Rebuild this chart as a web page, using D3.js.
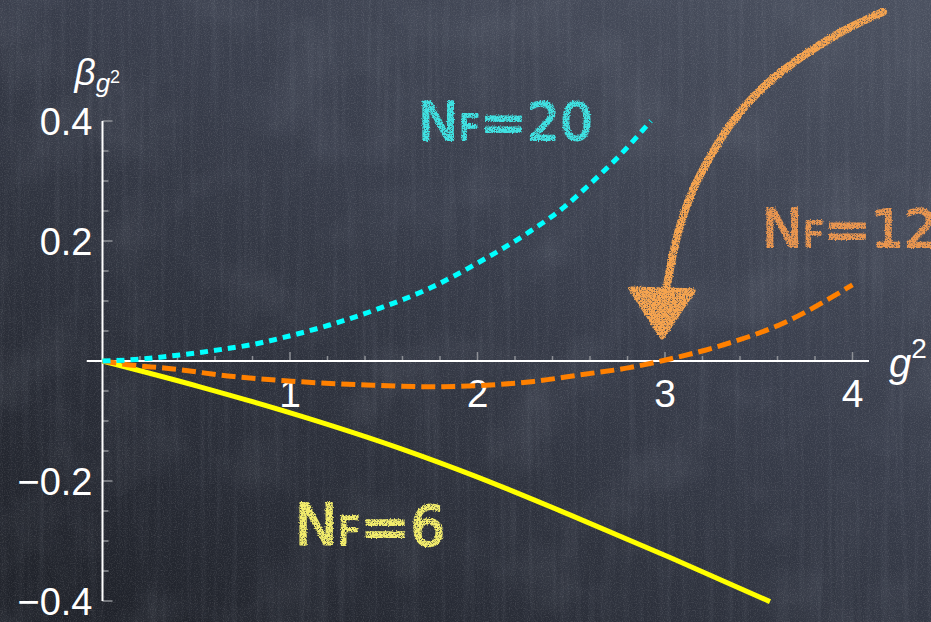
<!DOCTYPE html>
<html>
<head>
<meta charset="utf-8">
<script src="https://cdn.jsdelivr.net/npm/d3@7"></script>
<style>
  html, body { margin: 0; padding: 0; background: #2c3039; overflow: hidden; }
  svg { display: block; }
</style>
</head>
<body>
<svg id="chart" width="931" height="622"></svg>
<script>
// Two-loop beta function versus g^2 for three numbers of flavours
const gsqNf20  = [0, 0.20, 0.41, 0.65, 0.84, 0.95, 1.21, 1.48, 1.75, 2.01, 2.28, 2.46, 2.60, 2.75, 2.925];
const betaNf20 = [0, 0.003, 0.010, 0.020, 0.030, 0.038, 0.060, 0.088, 0.122, 0.165, 0.216, 0.256, 0.295, 0.340, 0.400];

const gsqNf12  = [0, 0.16, 0.34, 0.70, 1.05, 1.41, 1.77, 2.01, 2.30, 2.55, 2.81, 2.98, 3.28, 3.63, 4.00];
const betaNf12 = [0, -0.007, -0.012, -0.026, -0.0345, -0.040, -0.043, -0.041, -0.034, -0.023, -0.011, 0, 0.024, 0.063, 0.127];

const gsqNf6   = [0, 0.52, 1.05, 1.59, 1.98, 2.49, 3.03, 3.56];
const betaNf6  = [0, -0.043, -0.091, -0.146, -0.191, -0.256, -0.328, -0.401];

const xTickValues = [1, 2, 3, 4];
const xTickLabels = ["1", "2", "3", "4"];
const yTickValues = [-0.4, -0.2, 0.2, 0.4];
const yTickLabels = ["\u22120.4", "\u22120.2", "0.2", "0.4"];

const flavourLabels = ["20", "12", "6"];

// annotation arrow (data units) pointing at the zero of the N_F = 12 curve
const arrowShaft = [[4.163, 0.582], [3.95, 0.55], [3.72, 0.505], [3.52, 0.455], [3.363, 0.40],
                    [3.24, 0.34], [3.149, 0.285], [3.08, 0.225], [3.037, 0.17], [3.005, 0.115]];
const arrowHead  = [[2.820, 0.120], [3.150, 0.117], [2.984, 0.040]];

const W = 931, H = 622;
const svg = d3.select("#chart");

const x = d3.scaleLinear().domain([0, 4]).range([102.5, 852.5]);
const y = d3.scaleLinear().domain([-0.4, 0.4]).range([601, 121]);

// ---------- defs: board gradient, grain, chalk ----------
const defs = svg.append("defs");
const grad = defs.append("linearGradient").attr("id", "board")
  .attr("x1", 1).attr("y1", 0).attr("x2", 0.15).attr("y2", 1);
grad.append("stop").attr("offset", 0).attr("stop-color", "#4a505f");
grad.append("stop").attr("offset", 0.45).attr("stop-color", "#383d4b");
grad.append("stop").attr("offset", 1).attr("stop-color", "#20232b");

const grain = defs.append("filter").attr("id", "grain")
  .attr("x", 0).attr("y", 0).attr("width", "100%").attr("height", "100%");
grain.append("feTurbulence").attr("type", "fractalNoise")
  .attr("baseFrequency", "0.85").attr("numOctaves", 2).attr("seed", 4);
grain.append("feColorMatrix").attr("type", "matrix")
  .attr("values", "0 0 0 0 1  0 0 0 0 1  0 0 0 0 1  0.5 0 0 0 -0.22");

const smudge = defs.append("filter").attr("id", "smudge")
  .attr("x", 0).attr("y", 0).attr("width", "100%").attr("height", "100%");
smudge.append("feTurbulence").attr("type", "fractalNoise")
  .attr("baseFrequency", "0.012").attr("numOctaves", 4).attr("seed", 11);
smudge.append("feColorMatrix").attr("type", "matrix")
  .attr("values", "0 0 0 0 0.8  0 0 0 0 0.85  0 0 0 0 0.95  0.6 0 0 0 -0.28");

const streaks = defs.append("filter").attr("id", "streaks")
  .attr("x", 0).attr("y", 0).attr("width", "100%").attr("height", "100%");
streaks.append("feTurbulence").attr("type", "fractalNoise")
  .attr("baseFrequency", "0.18 0.006").attr("numOctaves", 2).attr("seed", 7);
streaks.append("feColorMatrix").attr("type", "matrix")
  .attr("values", "0 0 0 0 0.8  0 0 0 0 0.85  0 0 0 0 0.95  0.4 0 0 0 -0.18");

const chalk = defs.append("filter").attr("id", "chalk")
  .attr("x", "-10%").attr("y", "-10%").attr("width", "120%").attr("height", "120%");
chalk.append("feTurbulence").attr("type", "fractalNoise")
  .attr("baseFrequency", "0.7").attr("numOctaves", 2).attr("seed", 2).attr("result", "noise");
chalk.append("feDisplacementMap").attr("in", "SourceGraphic").attr("in2", "noise")
  .attr("scale", 3).attr("xChannelSelector", "R").attr("yChannelSelector", "G").attr("result", "disp");
chalk.append("feTurbulence").attr("type", "fractalNoise")
  .attr("baseFrequency", "1.6").attr("numOctaves", 1).attr("seed", 9).attr("result", "fine");
chalk.append("feColorMatrix").attr("in", "fine").attr("type", "matrix")
  .attr("values", "0 0 0 0 0  0 0 0 0 0  0 0 0 0 0  -4.5 0 0 0 3.4").attr("result", "mask");
chalk.append("feComposite").attr("in", "disp").attr("in2", "mask").attr("operator", "in");

// ---------- chalkboard ----------
svg.append("rect").attr("width", W).attr("height", H).attr("fill", "url(#board)");
svg.append("rect").attr("width", W).attr("height", H).attr("filter", "url(#smudge)").attr("opacity", 0.25);
svg.append("rect").attr("width", W).attr("height", H).attr("filter", "url(#streaks)").attr("opacity", 0.3);
svg.append("rect").attr("width", W).attr("height", H).attr("filter", "url(#grain)").attr("opacity", 0.55);

// ---------- chalk annotations ----------
const chalkLayer = svg.append("g").attr("filter", "url(#chalk)");

const arrowLine = d3.line()
  .x(d => x(d[0])).y(d => y(d[1]))
  .curve(d3.curveCatmullRom.alpha(0.5));
chalkLayer.append("path")
  .attr("d", arrowLine(arrowShaft))
  .attr("fill", "none").attr("stroke", "#f6a44f")
  .attr("stroke-width", 8).attr("stroke-linecap", "round");
chalkLayer.append("path")
  .attr("d", "M" + arrowHead.map(d => [x(d[0]), y(d[1])].join(",")).join("L") + "Z")
  .attr("fill", "#f6a44f").attr("stroke", "#f6a44f")
  .attr("stroke-width", 5).attr("stroke-linejoin", "round");

// "N_F = n" chalk label; anchor (left edge, baseline) in data units
function flavourLabel(gx, by, digits, color, s) {
  const x0 = x(gx), base = y(by);
  const t = chalkLayer.append("text").attr("y", base)
    .attr("fill", color).attr("stroke", color).attr("stroke-width", 1.8)
    .attr("stroke-linejoin", "round")
    .attr("font-family", "'DejaVu Sans', 'Liberation Sans', sans-serif");
  t.append("tspan").attr("x", x0 - 5 * s).attr("font-size", 54 * s).text("N");
  t.append("tspan").attr("x", x0 + 36 * s).attr("font-size", 36 * s).text("F");
  t.append("tspan").attr("x", x0 + 57 * s).attr("dy", 2 * s).attr("font-size", 56 * s).text("=");
  t.append("tspan").attr("x", x0 + 104 * s).attr("dy", -2 * s).attr("font-size", 52 * s)
    .text(digits);
}
flavourLabel(1.709, 0.368, flavourLabels[0], "#3fe2e2", 1.0);
flavourLabel(3.544, 0.190, flavourLabels[1], "#ea9650", 1.0);
flavourLabel(1.053, -0.307, flavourLabels[2], "#f3ed6c", 1.06);

// ---------- axes ----------
const tickColor = "#8e9096";
const axes = svg.append("g");

// minor and major ticks on the horizontal axis (pointing up)
const xMinor = d3.range(0.2, 4.001, 0.2);
axes.selectAll(".xt").data(xMinor).join("line")
  .attr("x1", d => x(d)).attr("x2", d => x(d))
  .attr("y1", y(0)).attr("y2", d => y(0) - (Math.abs(d - Math.round(d)) < 1e-6 ? 9 : 5))
  .attr("stroke", tickColor).attr("stroke-width", 1.5);

// minor and major ticks on the vertical axis (pointing right)
const yMinor = d3.range(-0.4, 0.4001, 0.05);
axes.selectAll(".yt").data(yMinor).join("line")
  .attr("y1", d => y(d)).attr("y2", d => y(d))
  .attr("x1", x(0)).attr("x2", d => x(0) + (Math.abs(d * 5 - Math.round(d * 5)) < 1e-6 ? 10 : 6))
  .attr("stroke", tickColor).attr("stroke-width", 1.5);

axes.append("line")
  .attr("x1", x(-0.084)).attr("x2", x(4.088)).attr("y1", y(0)).attr("y2", y(0))
  .attr("stroke", "#ffffff").attr("stroke-width", 2);
axes.append("line")
  .attr("x1", x(0)).attr("x2", x(0)).attr("y1", y(0.4)).attr("y2", y(-0.4))
  .attr("stroke", "#ffffff").attr("stroke-width", 2);

const labelFont = "'Liberation Sans', Arial, Helvetica, sans-serif";
axes.selectAll(".xl").data(xTickValues).join("text")
  .attr("x", d => x(d)).attr("y", y(0) + 46)
  .attr("text-anchor", "middle").attr("fill", "#ffffff")
  .attr("font-family", labelFont).attr("font-size", 39)
  .text((d, i) => xTickLabels[i]);

axes.selectAll(".yl").data(yTickValues).join("text")
  .attr("x", x(0) - 10).attr("y", d => y(d) + 14)
  .attr("text-anchor", "end").attr("fill", "#ffffff")
  .attr("font-family", labelFont).attr("font-size", 38)
  .text((d, i) => yTickLabels[i]);

// axis titles
const xTitle = axes.append("text").attr("x", x(4.088) + 20).attr("y", y(0) + 16)
  .attr("fill", "#ffffff").attr("font-family", labelFont).attr("font-size", 40);
xTitle.append("tspan").attr("font-style", "italic").text("g");
xTitle.append("tspan").attr("font-size", 28).attr("dy", -19).text("2");

const yTitle = axes.append("text").attr("x", x(0) - 28).attr("y", y(0.4) - 36)
  .attr("fill", "#ffffff").attr("font-family", labelFont).attr("font-size", 37);
yTitle.append("tspan").attr("font-style", "italic").text("\u03b2");
yTitle.append("tspan").attr("font-style", "italic").attr("font-size", 26).attr("dy", 7).text("g");
yTitle.append("tspan").attr("font-size", 18).attr("dy", -9).text("2");

// ---------- curves ----------
const line = d3.line()
  .x(d => x(d[0])).y(d => y(d[1]))
  .curve(d3.curveMonotoneX);

const curves = [
  { gsq: gsqNf6,  beta: betaNf6,  color: "#ffff00", dash: null },
  { gsq: gsqNf12, beta: betaNf12, color: "#ff8000", dash: "14,6" },
  { gsq: gsqNf20, beta: betaNf20, color: "#00ffff", dash: "8,6" }
];
svg.append("g").selectAll("path").data(curves).join("path")
  .attr("d", c => line(d3.zip(c.gsq, c.beta)))
  .attr("fill", "none")
  .attr("stroke", c => c.color)
  .attr("stroke-width", 5)
  .attr("stroke-dasharray", c => c.dash);
</script>
</body>
</html>
